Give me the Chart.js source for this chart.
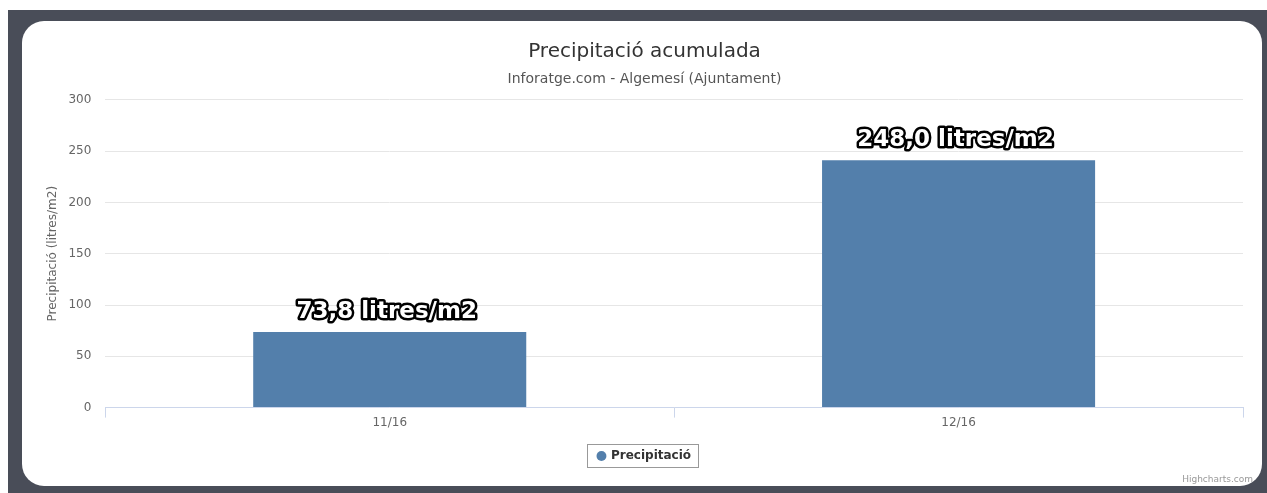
<!DOCTYPE html>
<html>
<head>
<meta charset="utf-8">
<script src="https://cdn.jsdelivr.net/npm/chart.js@4/dist/chart.umd.min.js"></script>
<style>
  html, body { margin: 0; padding: 0; background: #fff; }
  body { width: 1267px; height: 493px; position: relative; overflow: hidden; }
  #frame { position: absolute; left: 8px; top: 10px; right: 0; bottom: 0; background: #494d58; }
  #card { position: absolute; left: 22px; top: 21px; width: 1240px; height: 465px;
          background: #fff; border-radius: 22px; overflow: hidden; }
</style>
</head>
<body>
<div id="frame"></div>
<div id="card"><canvas id="chart"></canvas></div>
<script>
// Precipitació acumulada — Algemesí (Ajuntament)

const MONTHS = ['11/16', '12/16'];
const RAIN = [73.8, 241];                              // bar heights as drawn
const RAIN_LABELS = ['73,8 litres/m2', '248,0 litres/m2'];
const Y_TICKS = [0, 50, 100, 150, 200, 250, 300];

const FONT = '"DejaVu Sans", "Lucida Grande", sans-serif';
const BAR_COLOR = '#537fab';
const AXIS_COLOR = '#ccd6eb';

// white labels with black outline above each bar
const barLabels = {
  id: 'barLabels',
  afterDatasetsDraw(chart) {
    const ctx = chart.ctx;
    const meta = chart.getDatasetMeta(0);
    ctx.save();
    ctx.font = 'bold 23px "DejaVu Sans", sans-serif';
    ctx.textAlign = 'center';
    ctx.textBaseline = 'alphabetic';
    ctx.lineJoin = 'round';
    ctx.lineWidth = 5;
    ctx.strokeStyle = '#000';
    ctx.fillStyle = '#fff';
    meta.data.forEach((bar, i) => {
      const x = bar.x - 3, y = bar.y - 14;
      ctx.strokeText(RAIN_LABELS[i], x, y);
      ctx.fillText(RAIN_LABELS[i], x, y);
    });
    ctx.restore();
  }
};

// box around the legend + credits text
const legendBox = {
  id: 'legendBox',
  afterDraw(chart) {
    const ctx = chart.ctx;
    const boxes = chart.legend.legendHitBoxes;
    if (boxes && boxes.length) {
      const b = boxes[0];
      ctx.save();
      ctx.strokeStyle = '#999';
      ctx.lineWidth = 1;
      ctx.strokeRect(Math.round(b.left) - 10.5, Math.round(b.top) - 5.5, Math.round(b.width) + 18, Math.round(b.height) + 11);
      ctx.restore();
    }
    ctx.save();
    ctx.font = '9px ' + FONT;
    ctx.fillStyle = '#999';
    ctx.textAlign = 'right';
    ctx.textBaseline = 'alphabetic';
    ctx.fillText('Highcharts.com', chart.width - 9, chart.height - 4);
    ctx.restore();
  }
};

new Chart(document.getElementById('chart'), {
  type: 'bar',
  data: {
    labels: MONTHS,
    datasets: [{
      label: 'Precipitació',
      data: RAIN,
      backgroundColor: BAR_COLOR,
      borderWidth: 0,
      categoryPercentage: 1,
      barPercentage: 0.48,
    }]
  },
  options: {
    responsive: true,
    maintainAspectRatio: false,
    animation: false,
    layout: { padding: { left: 24, right: 19, top: 0, bottom: 14 } },
    plugins: {
      title: {
        display: true,
        text: 'Precipitació acumulada',
        color: '#333',
        font: { family: FONT, size: 20, weight: 'normal' },
        padding: { top: 19, bottom: 4 }
      },
      subtitle: {
        display: true,
        text: 'Inforatge.com - Algemesí (Ajuntament)',
        color: '#555',
        font: { family: FONT, size: 14 },
        padding: { top: 3, bottom: 12 }
      },
      legend: {
        position: 'bottom',
        labels: {
          usePointStyle: true,
          pointStyle: 'circle',
          boxWidth: 7,
          boxHeight: 7,
          color: '#333',
          font: { family: FONT, size: 12, weight: 'bold' },
          padding: 22
        }
      },
      tooltip: { enabled: false }
    },
    scales: {
      x: {
        offset: true,
        grid: { display: true, drawOnChartArea: false, offset: true, tickLength: 10, color: AXIS_COLOR },
        border: { color: AXIS_COLOR },
        ticks: { color: '#666', font: { family: FONT, size: 12 }, padding: -2 }
      },
      y: {
        min: 0,
        max: 300,
        afterBuildTicks: (scale) => { scale.ticks = Y_TICKS.map(v => ({ value: v })); },
        grid: { color: '#e6e6e6', drawTicks: false },
        border: { display: false },
        ticks: { color: '#666', font: { family: FONT, size: 12 }, padding: 14 },
        title: {
          display: true,
          text: 'Precipitació (litres/m2)',
          color: '#666',
          font: { family: FONT, size: 12 },
          padding: { top: 0, bottom: -6 }
        }
      }
    }
  },
  plugins: [barLabels, legendBox]
});
</script>
</body>
</html>
